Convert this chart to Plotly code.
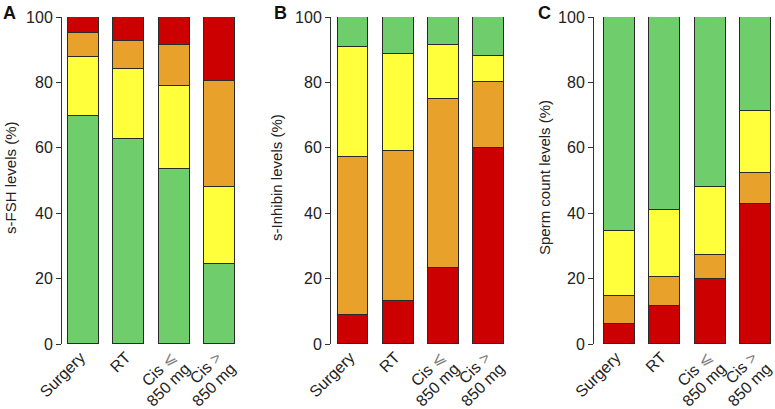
import plotly.graph_objects as go

categories_line1 = ["Surgery", "RT",
                    "Cis <span style='color:#808080'>\u2a7d</span>",
                    "Cis <span style='color:#808080'>></span>"]
categories_line2 = ["", "", "850 mg", "850 mg"]
tick_values = [0, 20, 40, 60, 80, 100]

# Panel A: s-FSH levels (%) - stacked bottom to top
fsh_green = [69.6, 62.6, 53.5, 24.5]
fsh_yellow = [18.2, 21.6, 25.4, 23.5]
fsh_orange = [7.3, 8.5, 12.4, 32.4]
fsh_red = [4.9, 7.3, 8.7, 19.6]

# Panel B: s-Inhibin levels (%) - stacked bottom to top
inh_red = [8.9, 13.0, 23.3, 60.0]
inh_orange = [48.4, 46.0, 51.7, 20.0]
inh_yellow = [33.5, 29.8, 16.3, 8.0]
inh_green = [9.2, 11.2, 8.7, 12.0]

# Panel C: Sperm count levels (%) - stacked bottom to top
sp_red = [6.1, 11.7, 19.8, 42.7]
sp_orange = [8.6, 8.8, 7.4, 9.5]
sp_yellow = [19.8, 20.5, 20.8, 19.0]
sp_green = [65.5, 59.0, 52.0, 28.8]

GREEN = "#6fcd6b"
YELLOW = "#ffff3c"
ORANGE = "#e8a22c"
RED = "#cc0000"

W, H = 775, 409
FONT = "Liberation Sans, Arial, sans-serif"

panels = [
    dict(layers=[(fsh_green, GREEN), (fsh_yellow, YELLOW), (fsh_orange, ORANGE), (fsh_red, RED)],
         title="s-FSH levels (%)", letter="A", px=(62, 236.3), rng=(-0.47, 3.36),
         title_x=10, letter_x=9),
    dict(layers=[(inh_red, RED), (inh_orange, ORANGE), (inh_yellow, YELLOW), (inh_green, GREEN)],
         title="s-Inhibin levels (%)", letter="B", px=(331, 505.2), rng=(-0.486, 3.36),
         title_x=276, letter_x=280),
    dict(layers=[(sp_red, RED), (sp_orange, ORANGE), (sp_yellow, YELLOW), (sp_green, GREEN)],
         title="Sperm count levels (%)", letter="C", px=(594, 772), rng=(-0.55, 3.36),
         title_x=544, letter_x=544),
]

fig = go.Figure()
x_pos = list(range(len(categories_line1)))
y_dom = [(H - 344) / H, (H - 17) / H]
annotations = []
tickfont = dict(family=FONT, size=16, color="#222")

for i, p in enumerate(panels):
    sfx = "" if i == 0 else str(i + 1)
    sfx2 = str(i + 4)
    for vals, col in p["layers"]:
        fig.add_trace(go.Bar(
            x=x_pos, y=vals, width=0.68,
            marker=dict(color=col, line=dict(color="#2a2a2a", width=1)),
            xaxis="x" + sfx, yaxis="y" + sfx, showlegend=False, hoverinfo="skip",
        ))
    # helper (invisible) trace so the second-line label axis is drawn
    fig.add_trace(go.Scatter(
        x=x_pos, y=[None] * len(x_pos), mode="markers",
        xaxis="x" + sfx2, yaxis="y" + sfx, showlegend=False, hoverinfo="skip",
    ))
    dom = [p["px"][0] / W, p["px"][1] / W]
    fig.layout["xaxis" + sfx] = dict(
        domain=dom, range=list(p["rng"]),
        tickmode="array", tickvals=x_pos, ticktext=categories_line1, tickangle=-45,
        ticklabelshift=-3, ticklabeloverflow="allow",
        showline=False, showgrid=False, zeroline=False, ticks="",
        tickfont=tickfont, anchor="y" + sfx, automargin=False, fixedrange=True,
    )
    fig.layout["xaxis" + sfx2] = dict(
        domain=dom, range=list(p["rng"]), overlaying="x" + sfx, side="bottom",
        tickmode="array", tickvals=x_pos, ticktext=categories_line2, tickangle=-45,
        ticklabelshift=11, ticklabelstandoff=11, ticklabeloverflow="allow",
        showline=False, showgrid=False, zeroline=False, ticks="",
        tickfont=tickfont, anchor="y" + sfx, automargin=False, fixedrange=True,
    )
    fig.layout["yaxis" + sfx] = dict(
        domain=y_dom, range=[0, 100], tickvals=tick_values,
        showline=True, linecolor="#333", linewidth=1,
        ticks="outside", ticklen=5, tickcolor="#333", tickwidth=1,
        showgrid=False, zeroline=False,
        tickfont=tickfont, anchor="x" + sfx, automargin=False, fixedrange=True,
    )
    annotations.append(dict(
        text=p["title"], x=p["title_x"] / W, y=(H - 178) / H, xref="paper", yref="paper",
        showarrow=False, textangle=-90, xanchor="center", yanchor="middle",
        font=dict(family=FONT, size=15, color="#222"),
    ))
    annotations.append(dict(
        text="<b>" + p["letter"] + "</b>", x=p["letter_x"] / W, y=(H - 13) / H,
        xref="paper", yref="paper", showarrow=False, xanchor="center", yanchor="middle",
        font=dict(family=FONT, size=18, color="#111"),
    ))

fig.update_layout(
    barmode="stack", bargap=0,
    width=W, height=H, margin=dict(l=0, r=0, t=0, b=0),
    paper_bgcolor="white", plot_bgcolor="white",
    annotations=annotations,
)

fig.write_html(
    "out.html",
    config={"displayModeBar": False},
    post_script="document.body.style.margin='0';document.body.style.padding='0';",
)
